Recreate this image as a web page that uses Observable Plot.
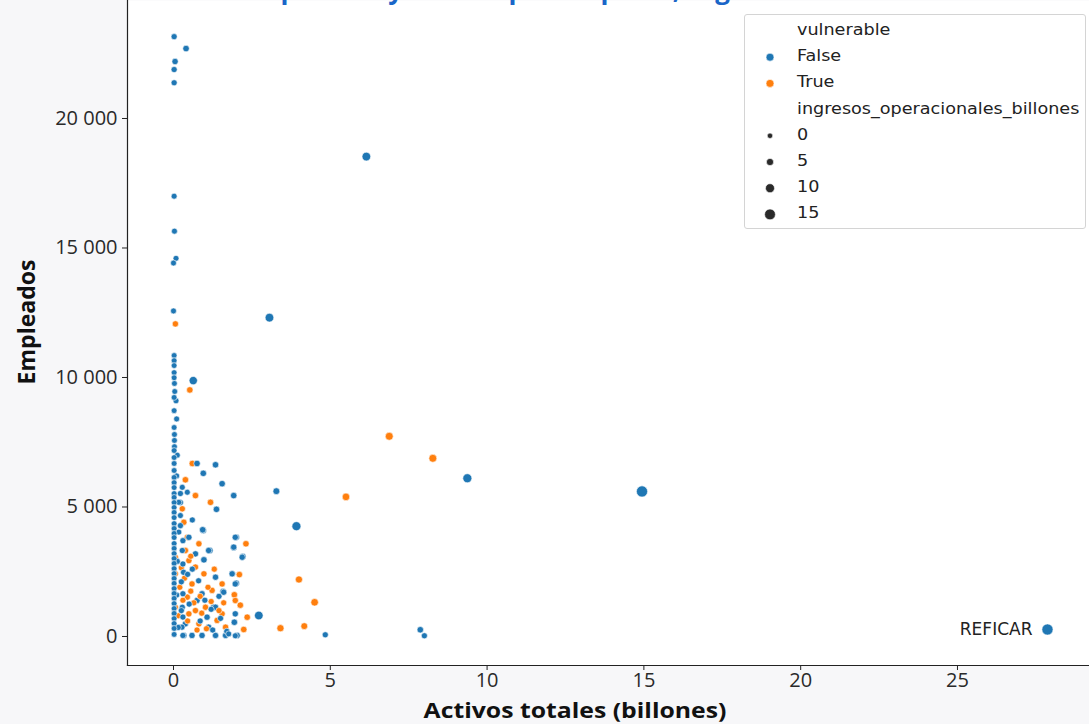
<!DOCTYPE html>
<html><head><meta charset="utf-8">
<script src="https://cdn.jsdelivr.net/npm/d3@7"></script>
<script src="https://cdn.jsdelivr.net/npm/@observablehq/plot@0.6"></script>
<style>
html,body{margin:0;padding:0;background:#f7f7f9;}
#wrap{position:relative;width:1089px;height:724px;overflow:hidden;font-family:"Open Sans",sans-serif;color:#222;}
#title{position:absolute;top:-24px;left:0;width:1200px;text-align:center;font-size:26px;line-height:26px;font-weight:700;color:#1a66c8;white-space:nowrap;}
.axlab{position:absolute;font-weight:700;color:#111;white-space:nowrap;line-height:1;}
#legend{position:absolute;left:744px;top:14px;width:342px;height:215px;background:#fff;border:1px solid #d4d4d4;border-radius:3px;box-sizing:border-box;}
#legend .item{position:absolute;left:52px;font-family:"DejaVu Sans",sans-serif;font-size:16px;line-height:20px;color:#222;white-space:nowrap;transform:scaleX(1.1);transform-origin:left center;}
#legend svg{position:absolute;left:0;top:0;}
</style></head>
<body><div id="wrap"></div>
<script>
// ---- data: [activos totales (billones), empleados, ingresos operacionales (billones)]
const noVulnerables = [
  [0.02,23160,2],[0.40,22700,3],[0.05,22200,2.5],[0.02,21890,2],[0.02,21380,2],
  [0.02,17000,1.5],[0.03,15650,1.5],[0.08,14600,1.5],[0.00,14420,1.5],[0.00,12570,1.5],
  [3.06,12310,9],[0.63,9880,8],[6.15,18530,9],[3.92,4260,10],[9.37,6110,10],[14.94,5600,16],[27.87,270,16],
  [3.28,5610,4],[2.72,810,9],[4.84,65,2],[7.87,260,3],[8.00,27,2],[1.97,27,1.5],[1.76,100,1.5],
  [0.75,6680,3],[1.34,6630,3],[0.95,6300,3],[1.55,5900,3],[1.92,5440,3],[1.37,4910,3],[0.95,4090,3],
  [2.00,3830,3],[1.92,3440,3],[1.16,3320,3],[2.21,3090,3],[0.97,2960,3],[1.87,2420,3],[2.00,2060,3],
  [1.58,1740,3],[1.28,1130,3],[1.94,550,3],
  [0.93,4120,3],[0.28,5760,1.5],[0.44,5570,1.5],[0.17,5180,1.5],[0.22,4670,1.5],[0.17,4030,1.5],
  [0.02,10850,1],[0.02,10650,1],[0.02,10460,1],[0.02,10190,1],[0.02,9990,1],[0.03,9770,1],
  [0.04,9460,1],[0.02,9230,1],[0.02,8720,1],[0.02,8070,1],[0.03,7800,1],[0.03,7570,1],
  [0.03,7330,1],[0.02,7180,1],[0.02,6910,1],[0.02,6680,1],[0.02,6410,1],[0.02,6140,1],
  [0.02,5940,1],[0.02,5750,1],[0.02,5520,1],[0.02,5370,1],[0.02,5170,1],[0.02,4980,1],
  [0.02,4790,1],[0.02,4590,1],[0.02,4360,1],[0.02,4170,1],[0.02,3980,1],[0.02,3820,1],
  [0.02,3590,1],[0.02,3400,1],[0.02,3200,1],[0.02,3010,1],[0.02,2820,1],[0.02,2620,1],
  [0.02,2430,1],[0.02,2240,1],[0.02,2050,1],[0.02,1850,1],[0.02,1660,1],[0.02,1470,1],
  [0.02,1270,1],[0.02,1080,1],[0.02,890,1],[0.02,690,1],[0.02,500,1],[0.02,310,1],[0.02,80,1],
  [0.30,3700,2],[0.28,3320,2],[0.30,2800,2],[0.32,2480,2],[0.25,2110,2],[0.30,1650,2],[0.28,1130,2],
  [0.30,750,2],[0.27,360,2],[0.30,40,2],[0.22,5520,2],[0.22,5170,2],[0.22,4280,2],
  [0.49,3830,2.5],[1.12,3320,2.5],[1.97,3830,2.5],[1.92,3450,2.5],[2.19,3060,2.5],[1.87,2420,2.5],
  [1.97,2030,2.5],[1.60,1710,2.5],[0.91,1650,2.5],[0.75,1390,2.5],[1.34,1130,2.5],[1.07,745,2.5],
  [1.97,875,2.5],[2.03,40,2.5],[1.66,40,2.5],[1.34,40,2.5],[0.91,40,2.5],[0.59,40,2.5],[0.33,40,2.5],
  [0.38,490,2.5],[1.12,360,2.5],[0.70,3190,2.5],[1.34,2290,2.5],
  [0.45,2400,2],[0.60,2600,2],[0.80,2150,2],[1.00,1400,2],[1.20,1050,2],[1.45,1550,2],[0.50,1250,2],
  [0.25,1000,2],[0.85,600,2],[1.25,250,2],[1.50,700,2],[1.70,200,2],[0.12,2900,2],[0.10,1600,2],
  [0.15,350,2],[0.60,4500,2],[0.10,6200,1.5],[0.12,7000,1.5],[0.10,8400,1.5],[0.08,9100,1.5]
];
const vulnerables = [
  [0.06,12070,2.5],[0.52,9520,3],[0.60,6680,3],[0.38,6050,3],[0.70,5440,3],[6.88,7730,7],[8.27,6880,7],
  [5.50,5390,6],[1.18,5180,3],[2.31,3580,3],[2.10,2390,3],[4.00,2200,5],[1.94,1610,3],[4.50,1320,6],
  [2.13,1210,3],[2.35,745,3],[3.41,320,5],[4.17,400,4],[2.24,270,3],
  [0.28,4930,2.5],[0.33,4410,2.5],[0.44,3830,2.5],
  [0.81,3580,2.5],[1.23,1780,2.5],[0.97,2420,2.5],[0.70,2680,2.5],[0.49,2930,2.5],[0.59,2030,2.5],
  [0.44,1520,2.5],[1.02,1130,2.5],[0.70,1000,2.5],[1.39,620,2.5],[1.66,360,2.5],[1.97,1390,2.5],
  [0.49,875,2.5],[0.81,490,2.5],[1.55,875,2.5],[0.06,1130,2],[0.06,2420,2],[0.06,3060,2],[0.38,3320,2.5],
  [1.55,2030,2.5],
  [0.25,2650,2],[0.35,2250,2],[0.55,1750,2],[0.65,1300,2],[0.85,1550,2],[0.90,900,2],[1.10,1900,2],
  [1.20,1350,2],[1.30,2600,2],[0.45,600,2],[0.75,250,2],[1.05,300,2],[1.45,1000,2],[0.20,1900,2],
  [0.15,800,2],[0.30,1400,2],[0.55,3100,2],[1.60,1300,2]
];
const etiquetas = [["REFICAR", 27.87, 270]];
const xTicks = [0, 5, 10, 15, 20, 25];
const yTicks = [0, 5000, 10000, 15000, 20000];
const colorDomain = [false, true];
const colorRange = ["#1f77b4", "#ff7f0e"];
const sizeLegend = [0, 5, 10, 15];

// build table, interleaving the two groups as in the source drawing order
const empresas = [];
const n = Math.max(noVulnerables.length, vulnerables.length);
for (let i = 0; i < n; i++) {
  if (noVulnerables[i]) { const [a,e,r] = noVulnerables[i]; empresas.push({activos:a, empleados:e, ingresos:r, vulnerable:false}); }
  if (vulnerables[i]) { const [a,e,r] = vulnerables[i]; empresas.push({activos:a, empleados:e, ingresos:r, vulnerable:true}); }
}
const labelData = etiquetas.map(([t,a,e]) => ({t, activos:a, empleados:e}));

const chart = Plot.plot({
  width: 1089, height: 724,
  marginLeft: 127, marginTop: 0, marginBottom: 59, marginRight: 0,
  style: {background: "transparent", fontFamily: "Open Sans, sans-serif", fontSize: "20px", color: "#2a2a2a", overflow: "visible"},
  x: {domain: [-1.467, 29.21]},
  y: {domain: [-1120, 24556]},
  r: {type: "linear", domain: [0, 15], range: [2.7, 5.4]},
  color: {domain: colorDomain, range: colorRange},
  marks: [
    Plot.frame({fill: "white", stroke: null}),
    Plot.axisX({ticks: xTicks, tickSize: 5, tickPadding: 2, label: null, stroke: "#222"}),
    Plot.axisY({ticks: yTicks, tickSize: 5, tickPadding: 5, label: null, stroke: "#222",
      tickFormat: d => d3.format(",")(d).replace(/,/g, " ")}),
    Plot.dot(empresas, {x: "activos", y: "empleados", r: "ingresos", fill: "vulnerable", stroke: "white", strokeWidth: 0.6}),
    Plot.text(labelData, {x: "activos", y: "empleados", text: "t", textAnchor: "end", dx: -15, fontSize: 17, fontFamily: "DejaVu Sans, sans-serif", fill: "#222"}),
    Plot.frame({anchor: "left", stroke: "#222", strokeWidth: 1.2}),
    Plot.frame({anchor: "bottom", stroke: "#222", strokeWidth: 1.2})
  ]
});

const wrap = document.getElementById("wrap");
wrap.appendChild(chart);

const title = document.createElement("div");
title.id = "title";
title.textContent = "Empleados y activos por empresa, según vulnerabilidad";
wrap.appendChild(title);

const xl = document.createElement("div");
xl.className = "axlab"; xl.textContent = "Activos totales (billones)";
xl.style.fontSize = "21px";
xl.style.left = "575px"; xl.style.top = "710px"; xl.style.transform = "translate(-50%,-50%) scaleX(1.18)";
wrap.appendChild(xl);
const yl = document.createElement("div");
yl.className = "axlab"; yl.textContent = "Empleados";
yl.style.fontSize = "23px";
yl.style.left = "26px"; yl.style.top = "322px"; yl.style.transform = "translate(-50%,-50%) rotate(-90deg)";
wrap.appendChild(yl);

// legend
const rScale = chart.scale("r");
const leg = d3.select(wrap).append("div").attr("id", "legend");
const svg = leg.append("svg").attr("width", 60).attr("height", 215);
const rowH = 26.2, y0 = 16;
const rows = [
  {text: "vulnerable"},
  {text: "False", color: colorRange[0], r: 4},
  {text: "True", color: colorRange[1], r: 4},
  {text: "ingresos_operacionales_billones"},
  ...sizeLegend.map(v => ({text: String(v), color: "#2a2a2a", r: rScale.apply(v)}))
];
rows.forEach((row, i) => {
  const cy = y0 + i * rowH;
  leg.append("div").attr("class", "item").style("top", (cy - 11) + "px").text(row.text);
  if (row.color) svg.append("circle").attr("cx", 25).attr("cy", cy).attr("r", row.r)
    .attr("fill", row.color).attr("stroke", "white").attr("stroke-width", 0.6);
});
</script></body></html>
